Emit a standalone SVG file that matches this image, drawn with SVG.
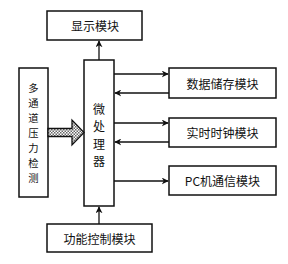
<svg xmlns="http://www.w3.org/2000/svg" width="288" height="264" viewBox="0 0 288 264">
<defs>
<style>
.box{fill:#fff;stroke:#111;stroke-width:1.5}
.t{font-family:"Noto Sans CJK SC","Liberation Sans",sans-serif;font-size:12px;fill:#111;text-anchor:middle;dominant-baseline:central}
.s{font-size:10.3px}
.ln{stroke:#111;stroke-width:1.3;fill:none}
</style>
<marker id="ah" viewBox="0 0 10 10" refX="9" refY="5" markerWidth="7" markerHeight="7" markerUnits="userSpaceOnUse" orient="auto">
<path d="M0,0 L10,5 L0,10 L3,5 Z" fill="#111"/>
</marker>
<pattern id="hatch" width="3" height="3" patternUnits="userSpaceOnUse">
<rect width="3" height="3" fill="#fff"/>
<rect width="1.5" height="1.5" fill="#666"/>
<rect x="1.5" y="1.5" width="1.5" height="1.5" fill="#666"/>
</pattern>
</defs>
<rect width="288" height="264" fill="#fff"/>
<g id="display"><rect class="box" x="47" y="11" width="95" height="29"/><text class="t" x="95" y="25.5">显示模块</text></g>
<g id="mcu"><rect class="box" x="84" y="60" width="30" height="146"/>
<text class="t" x="99" y="108">微</text><text class="t" x="99" y="125.5">处</text><text class="t" x="99" y="143">理</text><text class="t" x="99" y="160.5">器</text></g>
<g id="pressure"><rect class="box" x="19" y="68" width="29" height="129"/>
<text class="t s" x="33.5" y="87">多</text><text class="t s" x="33.5" y="102">通</text><text class="t s" x="33.5" y="117">道</text><text class="t s" x="33.5" y="132">压</text><text class="t s" x="33.5" y="147">力</text><text class="t s" x="33.5" y="162">检</text><text class="t s" x="33.5" y="177">测</text></g>
<g id="storage"><rect class="box" x="169" y="68" width="107" height="30"/><text class="t" x="222.5" y="83">数据储存模块</text></g>
<g id="rtc"><rect class="box" x="169" y="118" width="107" height="29"/><text class="t" x="222.5" y="132.5">实时时钟模块</text></g>
<g id="pc"><rect class="box" x="169" y="166" width="107" height="29"/><text class="t" x="222.5" y="180.5">PC机通信模块</text></g>
<g id="func"><rect class="box" x="47" y="224" width="105" height="28"/><text class="t" x="99.5" y="238">功能控制模块</text></g>
<g id="connectors">
<path d="M48,128.5 H72 V120 L84,132.5 L72,145 V136.5 H48 Z" fill="url(#hatch)" stroke="#111" stroke-width="1.3"/>
<line class="ln" x1="99" y1="60" x2="99" y2="41" marker-end="url(#ah)"/>
<line class="ln" x1="99" y1="224" x2="99" y2="207" marker-end="url(#ah)"/>
<line class="ln" x1="114" y1="74" x2="168" y2="74" marker-end="url(#ah)"/>
<line class="ln" x1="169" y1="93" x2="115" y2="93" marker-end="url(#ah)"/>
<line class="ln" x1="114" y1="123" x2="168" y2="123" marker-end="url(#ah)"/>
<line class="ln" x1="169" y1="142" x2="115" y2="142" marker-end="url(#ah)"/>
<line class="ln" x1="114" y1="181" x2="168" y2="181" marker-end="url(#ah)"/>
</g>
</svg>
